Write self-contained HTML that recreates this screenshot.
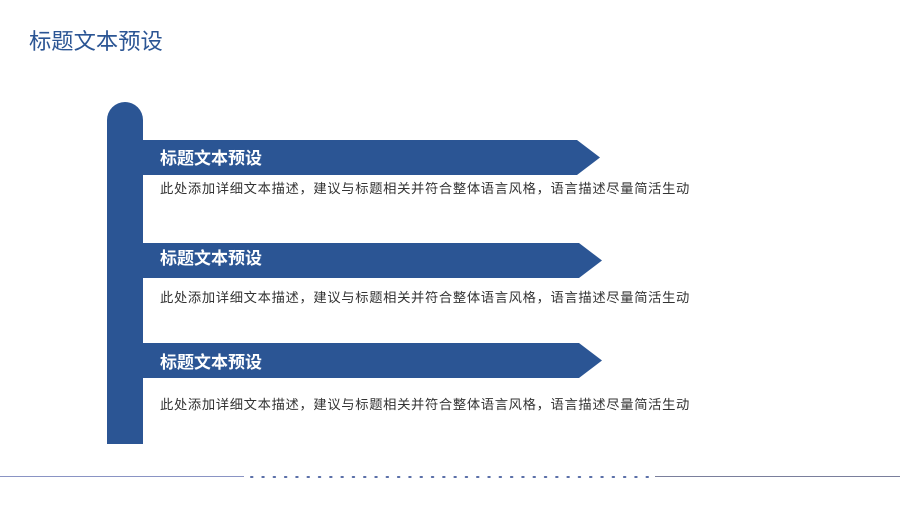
<!DOCTYPE html>
<html><head><meta charset="utf-8"><style>
body{margin:0;width:900px;height:506px;background:#fff;position:relative;overflow:hidden;font-family:"Liberation Sans","Noto Sans CJK SC",sans-serif}
.t{position:absolute;left:29px;top:24px;font-size:22.3px;color:#2b5594}
.h{position:absolute;left:160px;font-size:17px;font-weight:bold;color:#fff}
.d{position:absolute;left:160px;font-size:13.3px;letter-spacing:0.65px;color:#333;white-space:nowrap}
</style></head><body>
<div class="t">标题文本预设</div>
<svg width="900" height="506" style="position:absolute;left:0;top:0">
<path d="M107 444V120a18 18 0 0 1 36 0V444Z" fill="#2b5594"/>
<polygon points="143,140 577,140 600,157.5 577,175 143,175" fill="#2b5594"/>
<polygon points="143,243 579,243 602,260.5 579,278 143,278" fill="#2b5594"/>
<polygon points="143,343 579,343 602,360.5 579,378 143,378" fill="#2b5594"/>
<line x1="0" y1="476.5" x2="244" y2="476.5" stroke="#8a94c4" stroke-width="1"/>
<line x1="655" y1="476.5" x2="900" y2="476.5" stroke="#7a7f9c" stroke-width="1"/>
<line x1="251" y1="477" x2="652" y2="477" stroke="#5a6fa8" stroke-width="2" stroke-dasharray="1.5 9.8" stroke-linecap="round"/>
</svg>
<div class="h" style="top:144px">标题文本预设</div>
<div class="d" style="top:178px">此处添加详细文本描述，建议与标题相关并符合整体语言风格，语言描述尽量简活生动</div>
<div class="h" style="top:244px">标题文本预设</div>
<div class="d" style="top:287px">此处添加详细文本描述，建议与标题相关并符合整体语言风格，语言描述尽量简活生动</div>
<div class="h" style="top:348px">标题文本预设</div>
<div class="d" style="top:394px">此处添加详细文本描述，建议与标题相关并符合整体语言风格，语言描述尽量简活生动</div>
</body></html>
